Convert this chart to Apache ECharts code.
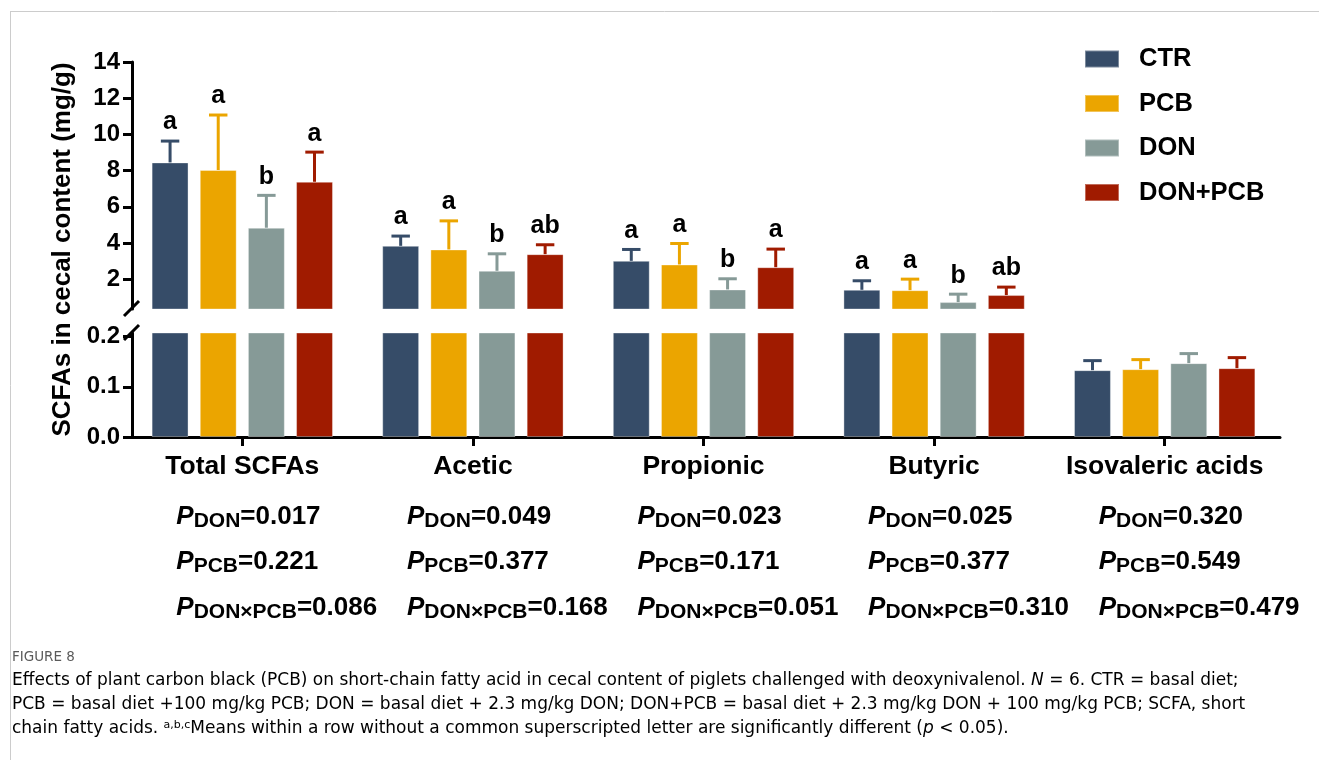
<!DOCTYPE html>
<html>
<head>
<meta charset="utf-8">
<script src="https://cdn.jsdelivr.net/npm/echarts@6/dist/echarts.min.js"></script>
<style>
  html, body { margin: 0; padding: 0; background: #ffffff; }
  #chart { width: 1319px; height: 760px; }
</style>
</head>
<body>
<div id="chart"></div>
<script>
// ---- data ----
const categories = ['Total SCFAs', 'Acetic', 'Propionic', 'Butyric', 'Isovaleric acids'];
const groups = ['CTR', 'PCB', 'DON', 'DON+PCB'];

const ctrMean    = [8.45, 3.84, 3.01, 1.41, 0.133];
const ctrErr     = [1.18, 0.54, 0.63, 0.50, 0.019];
const pcbMean    = [8.03, 3.64, 2.81, 1.39, 0.135];
const pcbErr     = [3.04, 1.58, 1.16, 0.61, 0.019];
const donMean    = [4.84, 2.46, 1.43, 0.73, 0.147];
const donErr     = [1.79, 0.94, 0.59, 0.44, 0.019];
const donPcbMean = [7.38, 3.38, 2.66, 1.12, 0.137];
const donPcbErr  = [1.64, 0.52, 1.00, 0.44, 0.021];

const ctrLetters    = ['a', 'a', 'a', 'a', ''];
const pcbLetters    = ['a', 'a', 'a', 'a', ''];
const donLetters    = ['b', 'b', 'b', 'b', ''];
const donPcbLetters = ['a', 'ab', 'a', 'ab', ''];

const pDon = ['0.017', '0.049', '0.023', '0.025', '0.320'];
const pPcb = ['0.221', '0.377', '0.171', '0.377', '0.549'];
const pInt = ['0.086', '0.168', '0.051', '0.310', '0.479'];

const upperTicks = [2, 4, 6, 8, 10, 12, 14];
const lowerTicks = [0, 0.1, 0.2];
const upperRange = [0.35, 14];
const lowerRange = [0, 0.207];

// ---- styles / layout ----
const colors = ['#364C68', '#EBA500', '#869A97', '#A01B00'];
const FONT = "'Liberation Sans', Arial, sans-serif";
const BAR_W = 0.16;     // bar width as share of category band
const BAR_GAP = 0.305;  // gap between bars as share of bar width
const GRID_LEFT = 127;
const AXIS_SHIFT = 5;   // y axis drawn a little inside the grid's left edge

const means = [ctrMean, pcbMean, donMean, donPcbMean];
const errs = [ctrErr, pcbErr, donErr, donPcbErr];
const letters = [ctrLetters, pcbLetters, donLetters, donPcbLetters];

const chart = echarts.init(document.getElementById('chart'), null, { renderer: 'canvas' });

function errorSeries(k, gridIdx) {
  const range = gridIdx === 0 ? upperRange : lowerRange;
  return {
    type: 'custom',
    xAxisIndex: gridIdx,
    yAxisIndex: gridIdx,
    z: 5,
    silent: true,
    data: categories.map((c, i) => [i, means[k][i], errs[k][i]]),
    encode: { x: 0, y: 1 },
    renderItem: function (params, api) {
      const cat = api.value(0), mean = api.value(1), err = api.value(2);
      if (mean < range[0] || mean + err > range[1]) return null;
      const band = api.size([1, 0])[0];
      const bw = band * BAR_W;
      const pitch = bw * (1 + BAR_GAP);
      const base = api.coord([cat, mean]);
      const cx = base[0] + (k - 1.5) * pitch;
      const yTop = base[1];
      const yCap = api.coord([cat, mean + err])[1];
      const half = bw * 0.25;
      const col = colors[k];
      const children = [
        { type: 'line', shape: { x1: cx, y1: yTop, x2: cx, y2: yCap }, style: { stroke: col, lineWidth: 3 } },
        { type: 'line', shape: { x1: cx - half, y1: yCap, x2: cx + half, y2: yCap }, style: { stroke: col, lineWidth: 3 } }
      ];
      const lt = letters[k][params.dataIndex];
      if (lt) {
        children.push({
          type: 'text',
          style: {
            x: cx, y: yCap - 6, text: lt,
            textAlign: 'center', textVerticalAlign: 'bottom',
            font: 'bold 25px ' + FONT, fill: '#000'
          }
        });
      }
      return { type: 'group', children: children };
    }
  };
}

const series = [];
[0, 1].forEach(g => {
  groups.forEach((name, k) => {
    series.push({
      name: name,
      type: 'bar',
      xAxisIndex: g,
      yAxisIndex: g,
      data: means[k],
      barWidth: (BAR_W * 100) + '%',
      barGap: (BAR_GAP * 100) + '%',
      clip: true,
      itemStyle: { color: colors[k], borderColor: 'rgba(255,255,255,0.35)', borderWidth: 1 },
      emphasis: { disabled: true }
    });
  });
  groups.forEach((name, k) => series.push(errorSeries(k, g)));
});

const axisBlack = { lineStyle: { color: '#000', width: 3 } };

const option = {
  animation: false,
  backgroundColor: '#ffffff',
  legend: {
    data: groups,
    orient: 'vertical',
    left: 1079,
    top: 41,
    icon: 'rect',
    itemWidth: 34,
    itemHeight: 17,
    itemGap: 18.5,
    selectedMode: false,
    textStyle: {
      fontFamily: FONT, fontWeight: 'bold', fontSize: 25.5, color: '#000',
      lineHeight: 26, padding: [0, 0, 0, 15]
    }
  },
  grid: [
    { left: GRID_LEFT, right: 39, top: 62, bottom: 760 - 309 },
    { left: GRID_LEFT, right: 39, top: 333, bottom: 760 - 437 }
  ],
  xAxis: [
    {
      type: 'category', gridIndex: 0, data: categories,
      axisLine: { show: false }, axisTick: { show: false }, axisLabel: { show: false }, splitLine: { show: false }
    },
    {
      type: 'category', gridIndex: 1, data: categories,
      axisLine: axisBlack,
      axisTick: { show: true, alignWithLabel: true, length: 9, lineStyle: { color: '#000', width: 3 } },
      axisLabel: {
        margin: 16, color: '#000', fontFamily: FONT, fontWeight: 'bold', fontSize: 26.5,
        interval: 0
      },
      splitLine: { show: false }
    }
  ],
  yAxis: [
    {
      type: 'value', gridIndex: 0, min: upperRange[0], max: upperRange[1],
      offset: -AXIS_SHIFT,
      axisLine: { show: true, lineStyle: { color: '#000', width: 3 } },
      axisTick: { show: true, length: 9, customValues: upperTicks, lineStyle: { color: '#000', width: 3 } },
      axisLabel: {
        customValues: upperTicks, margin: 12, color: '#000',
        fontFamily: FONT, fontWeight: 'bold', fontSize: 24
      },
      splitLine: { show: false }
    },
    {
      type: 'value', gridIndex: 1, min: lowerRange[0], max: lowerRange[1],
      offset: -AXIS_SHIFT,
      axisLine: { show: true, lineStyle: { color: '#000', width: 3 } },
      axisTick: { show: true, length: 9, customValues: lowerTicks, lineStyle: { color: '#000', width: 3 } },
      axisLabel: {
        customValues: lowerTicks, margin: 12, color: '#000',
        fontFamily: FONT, fontWeight: 'bold', fontSize: 24,
        formatter: v => v.toFixed(1)
      },
      splitLine: { show: false }
    }
  ],
  series: series
};

chart.setOption(option);

// ---- annotations placed from the axes ----
const axisX = GRID_LEFT + AXIS_SHIFT;
const yBreakUpper = chart.convertToPixel({ yAxisIndex: 0 }, upperRange[0]);
const yBreakLower = chart.convertToPixel({ yAxisIndex: 1 }, lowerRange[1]);
const yAxisTop = chart.convertToPixel({ yAxisIndex: 0 }, upperRange[1]);
const yAxisBottom = chart.convertToPixel({ yAxisIndex: 1 }, lowerRange[0]);

const graphics = [];

// frame around the figure
graphics.push({ type: 'line', shape: { x1: 10, y1: 11.5, x2: 1319, y2: 11.5 }, style: { stroke: '#cccccc', lineWidth: 1 }, silent: true });
graphics.push({ type: 'line', shape: { x1: 10.5, y1: 11, x2: 10.5, y2: 760 }, style: { stroke: '#cccccc', lineWidth: 1 }, silent: true });

// axis break marks
[yBreakUpper, yBreakLower].forEach(y => {
  graphics.push({
    type: 'line', silent: true, z: 10,
    shape: { x1: axisX - 8, y1: y + 7, x2: axisX + 7, y2: y - 8 },
    style: { stroke: '#000', lineWidth: 3 }
  });
});

// y axis title
graphics.push({
  type: 'text', silent: true,
  x: 63, y: (yAxisTop + yAxisBottom) / 2 + 0,
  rotation: Math.PI / 2,
  style: {
    text: 'SCFAs in cecal content (mg/g)',
    font: 'bold 26px ' + FONT, fill: '#000',
    textAlign: 'center', textVerticalAlign: 'middle'
  }
});

// P values under each category
const pRich = {
  p: { fontFamily: FONT, fontWeight: 'bold', fontStyle: 'italic', fontSize: 26, color: '#000' },
  s: { fontFamily: FONT, fontWeight: 'bold', fontSize: 21, color: '#000', padding: [9, 0, 0, 0] },
  v: { fontFamily: FONT, fontWeight: 'bold', fontSize: 26, color: '#000' }
};
const pRows = [
  { sub: 'DON', vals: pDon, y: 517 },
  { sub: 'PCB', vals: pPcb, y: 562 },
  { sub: 'DON×PCB', vals: pInt, y: 608 }
];
categories.forEach((c, i) => {
  const cx = chart.convertToPixel({ gridIndex: 1 }, [i, 0])[0];
  pRows.forEach(r => {
    graphics.push({
      type: 'text', silent: true,
      x: cx - 66, y: r.y,
      style: {
        text: '{p|P}{s|' + r.sub + '}{v|=' + r.vals[i] + '}',
        rich: pRich,
        textAlign: 'left', textVerticalAlign: 'middle'
      }
    });
  });
});

// figure caption
const CAP_FONT = "'DejaVu Sans', 'Open Sans', sans-serif";
const capRich = {
  t: { fontFamily: CAP_FONT, fontSize: 17, color: '#767676' },
  i: { fontFamily: CAP_FONT, fontSize: 17, color: '#767676', fontStyle: 'italic' },
  sup: { fontFamily: CAP_FONT, fontSize: 11, color: '#767676', padding: [0, 0, 8, 0] }
};
graphics.push({
  type: 'text', silent: true, x: 12, y: 657,
  style: { text: 'FIGURE 8', font: '13.5px ' + CAP_FONT, fill: '#5a5a5a', textVerticalAlign: 'middle' }
});
const capLines = [
  '{t|Effects of plant carbon black (PCB) on short-chain fatty acid in cecal content of piglets challenged with deoxynivalenol. }{i|N}{t| = 6. CTR = basal diet;}',
  '{t|PCB = basal diet +100 mg/kg PCB; DON = basal diet + 2.3 mg/kg DON; DON+PCB = basal diet + 2.3 mg/kg DON + 100 mg/kg PCB; SCFA, short}',
  '{t|chain fatty acids. }{sup|a,b,c}{t|Means within a row without a common superscripted letter are significantly different (}{i|p}{t| < 0.05).}'
];
capLines.forEach((t, j) => {
  graphics.push({
    type: 'text', silent: true, x: 12, y: 681 + j * 24,
    style: { text: t, rich: capRich, textVerticalAlign: 'middle' }
  });
});

chart.setOption({ graphic: graphics });
</script>
</body>
</html>
